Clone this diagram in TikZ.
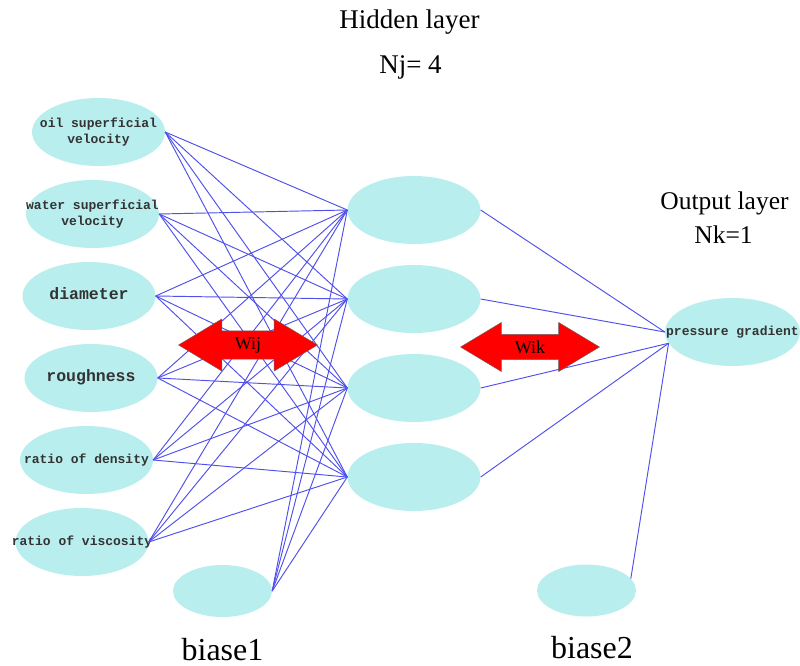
\documentclass[tikz,border=0pt]{standalone}
\usepackage{fontspec}
\setmainfont{Liberation Serif}
\setmonofont{Liberation Mono}
\usetikzlibrary{shapes.geometric,shapes.arrows,positioning}
\definecolor{cellfill}{RGB}{185,238,238}
\definecolor{wireblue}{RGB}{80,80,235}
\newcommand{\elabel}[1]{\makebox[0pt]{\begin{tabular}{@{}c@{}}#1\end{tabular}}}

\begin{document}
\begin{tikzpicture}[x=1pt, y=1pt, node distance=82pt]
   \tikzstyle{every node} = [inner sep=0pt];
   \tikzstyle{cell} = [ellipse, fill=cellfill, minimum width=133pt, minimum height=68pt, text=black!80, font=\ttfamily\bfseries\fontsize{13}{16}\selectfont];
   \tikzstyle{big} = [font=\ttfamily\bfseries\fontsize{16.5}{18}\selectfont];
   \tikzstyle{bias} = [ellipse, fill=cellfill, minimum width=99pt, minimum height=52pt];
   \tikzstyle{wire} = [wireblue, line width=0.95pt];
   \tikzstyle{weight} = [double arrow, fill=red, draw=black!60, line width=0.4pt, inner sep=6pt, minimum width=49pt, minimum height=139pt, double arrow head extend=12pt, double arrow tip angle=62, font=\fontsize{18}{18}\selectfont];
   \useasboundingbox (0,0) rectangle (800,-666);

   % input layer
   \node[cell]           (a) at (98.5,-132)         {\elabel{oil superficial\\velocity}};
   \node[cell]           (b) [below of = a, xshift=-6pt] {\elabel{water superficial\\velocity}};
   \node[cell, big]      (c) [below of = b, xshift=-3.5pt] {\elabel{diameter}};
   \node[cell, big]      (d) [below of = c, xshift=2pt] {\elabel{roughness}};
   \node[cell]           (e) [below of = d, xshift=-4.5pt] {\elabel{ratio of density}};
   \node[cell]           (f) [below of = e, xshift=-4.5pt] {\elabel{ratio of viscosity}};
   \node[bias]           (g) at (222.5,-591)         {};

   % hidden layer
   \node[cell]           (h) at (414,-210)           {};
   \node[cell]           (i) [below of = h, node distance=89pt] {};
   \node[cell]           (j) [below of = i, node distance=89pt] {};
   \node[cell]           (k) [below of = j, node distance=89pt] {};

   % output layer
   \node[cell, minimum width=135pt] (l) at (732.5,-332) {\elabel{pressure gradient}};
   \node[bias]           (m) at (586.5,-590.5)       {};

   \path[wire] (a.east) edge (h.west) edge (i.west) edge (j.west) edge (k.west);
   \path[wire] (b.east) edge (h.west) edge (i.west) edge (j.west) edge (k.west);
   \path[wire] (c.east) edge (h.west) edge (i.west) edge (j.west) edge (k.west);
   \path[wire] (d.east) edge (h.west) edge (i.west) edge (j.west) edge (k.west);
   \path[wire] (e.east) edge (h.west) edge (i.west) edge (j.west) edge (k.west);
   \path[wire] (f.east) edge (h.west) edge (i.west) edge (j.west) edge (k.west);
   \path[wire] (g.east) edge (h.west) edge (i.west) edge (j.west) edge (k.west);
   \path[wire] (h.east) edge (l.west);
   \path[wire] (i.east) edge (l.west);
   \path[wire] (j.east) edge (l.190);
   \path[wire] (k.east) edge (l.190);
   \path[wire] (m.15) edge (l.190);

   \node[weight]         (wij) at (248,-345)         {Wij};
   \node[weight]         (wik) at (530,-347)         {Wik};

   % titles
   \tikzstyle{title} = [anchor=base, font=\fontsize{27}{27}\selectfont];
   \node[title]          (hl) at (409.5,-29)         {Hidden layer};
   \node[title]          (nj) at (410.5,-74)         {Nj= 4};
   \node[title, font=\fontsize{25.5}{26}\selectfont] (ol) at (724.5,-209) {Output layer};
   \node[title, font=\fontsize{25.5}{26}\selectfont] (nk) at (723.5,-243) {Nk=1};
   \node[title, font=\fontsize{32}{32}\selectfont]   (b1) at (222.5,-660) {biase1};
   \node[title, font=\fontsize{32}{32}\selectfont]   (b2) at (592,-658)   {biase2};
\end{tikzpicture}
\end{document}
